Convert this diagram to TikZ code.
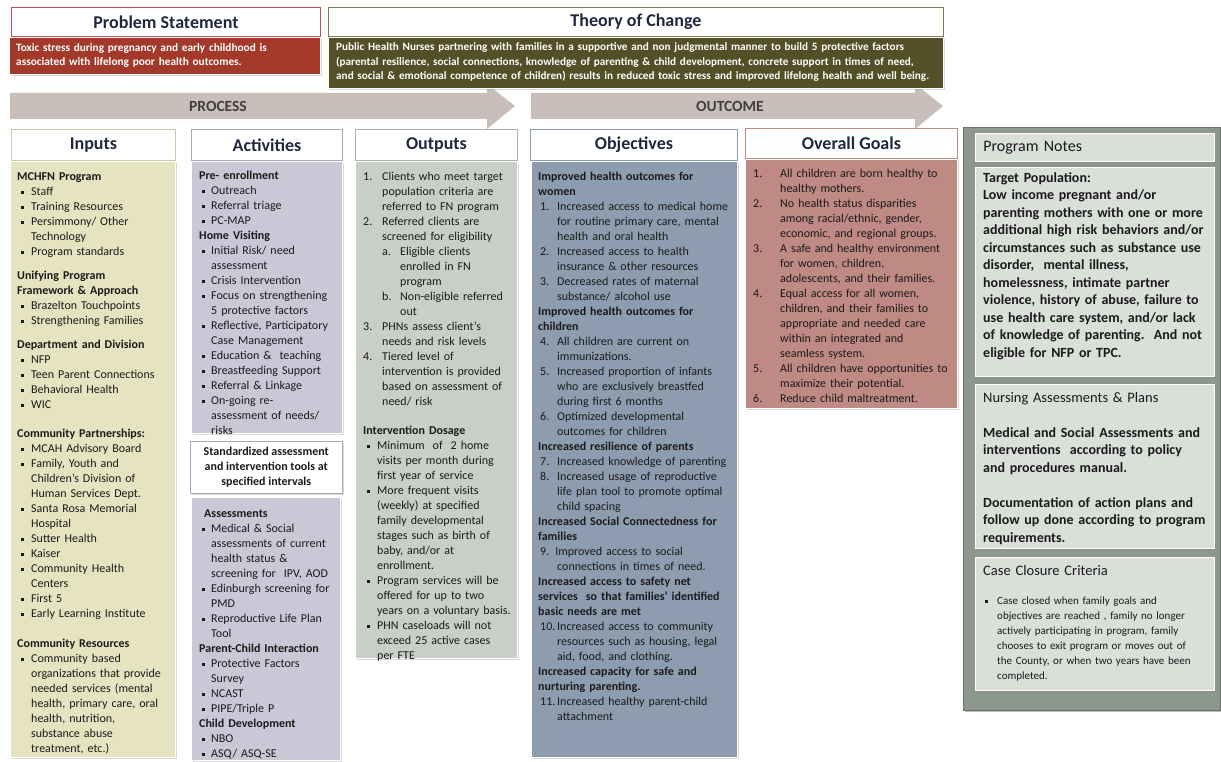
\documentclass[tikz,border=0pt]{standalone}
\usepackage{fontspec}
\setmainfont{Carlito}
\usepackage{xcolor}
\usetikzlibrary{shadows}
\setlength{\parindent}{0pt}

\definecolor{probred}{HTML}{A3392B}
\definecolor{probline}{HTML}{C0504D}
\definecolor{tocolive}{HTML}{535027}
\definecolor{tocline}{HTML}{7F7B4F}
\definecolor{arrowgrey}{HTML}{C9BEB9}
\definecolor{inputfill}{HTML}{E6E4C0}
\definecolor{actfill}{HTML}{C8C8D6}
\definecolor{outfill}{HTML}{C9CFC7}
\definecolor{objfill}{HTML}{8D9CAF}
\definecolor{goalfill}{HTML}{C08A84}
\definecolor{notesout}{HTML}{8C988C}
\definecolor{notesin}{HTML}{DADFDA}
\definecolor{hdrtext}{HTML}{202840}
\definecolor{bodytext}{HTML}{1A1A1A}

\newlength{\bulw}
\newlength{\buloff}
\newcommand{\hd}[1]{\par\noindent\strut\textbf{#1}}
\newcommand{\bu}[1]{\par\hangindent=\bulw\hangafter=1\noindent\strut\makebox[\bulw][l]{\hspace{\buloff}\raisebox{1.6pt}{\rule{2.6pt}{2.6pt}}}#1}
\newcommand{\nm}[2]{\par\hangindent=\bulw\hangafter=1\noindent\strut\makebox[\bulw][l]{\hspace{\buloff}#1}#2}
\newcommand{\subnm}[2]{\par\hangindent=37pt\hangafter=1\noindent\strut\hspace*{19pt}\makebox[18pt][l]{#1}#2}
\newcommand{\gap}[1]{\par\vspace{#1}}

\begin{document}
\begin{tikzpicture}[x=1pt,y=-1pt,
  hdr/.style={draw=#1, fill=white, line width=0.9pt, anchor=north west, inner sep=0pt, text=hdrtext, font=\fontsize{18}{20}\selectfont\bfseries},
  panel/.style={fill=#1, draw=white, line width=0.5pt, anchor=north west, inner sep=0pt, drop shadow={shadow xshift=2pt, shadow yshift=-2pt, opacity=0.3}},
  txt/.style={anchor=north west, inner sep=0pt, align=left, text=bodytext, font=\fontsize{12}{15}\selectfont},
  band/.style={fill=arrowgrey},
  bandlabel/.style={text=black!75, font=\fontsize{15.5}{17}\selectfont\bfseries}]
	\useasboundingbox (0,0) rectangle (1221,762);
	\fill[white] (0,0) rectangle (1221,762);
	% process / outcome bands
	\fill[band] (10,93) -- (487,93) -- (487,84) -- (515,106) -- (487,129) -- (487,119) -- (10,119) -- cycle;
	\fill[band] (531,93) -- (915,93) -- (915,84) -- (943,106) -- (915,129) -- (915,119) -- (531,119) -- cycle;
	\node[bandlabel] (process) at (218,106) {PROCESS};
	\node[bandlabel] (outcome) at (730,106) {OUTCOME};
	% problem statement and theory of change
	\node[hdr=probline, minimum width=309pt, minimum height=29pt] (probhdr) at (11,7) {Problem Statement};
	\node[panel=probred, minimum width=311pt, minimum height=37pt] (probbox) at (9,37) {};
	\node[txt, text=white, font=\fontsize{11.3}{14.5}\selectfont\bfseries, text width=310pt] (probtxt) at (16,41)
		{\strut Toxic stress during pregnancy and early childhood is\newline associated with lifelong poor health outcomes.};
	\node[hdr=tocline, minimum width=615pt, minimum height=29pt] (tochdr) at (328,7) {Theory of Change};
	\node[panel=tocolive, minimum width=615pt, minimum height=51pt] (tocbox) at (328,37) {};
	\node[txt, text=white, font=\fontsize{11.2}{14.5}\selectfont\bfseries, text width=620pt] (toctxt) at (336,40.5)
		{\strut Public Health Nurses partnering with families in a supportive and non judgmental manner to build 5 protective factors\newline
		(parental resilience, social connections, knowledge of parenting \& child development, concrete support in times of need,\newline
		and social \& emotional competence of children) results in reduced toxic stress and improved lifelong health and well being.};
	% column headers
	\node[hdr=inputfill!80!black!60!inputfill, minimum width=164pt, minimum height=31pt] (inhdr) at (11,129) {Inputs};
	\node[hdr=actfill!85!black, minimum width=151pt, minimum height=31pt] (acthdr) at (191,129) {Activities};
	\node[hdr=outfill!85!black, minimum width=162pt, minimum height=31pt] (outhdr) at (355,129) {Outputs};
	\node[hdr=objfill, minimum width=207pt, minimum height=31pt] (objhdr) at (530,129) {Objectives};
	\node[hdr=goalfill, minimum width=212pt, minimum height=30pt] (goalhdr) at (745,128) {Overall Goals};
	% column panels
	\node[panel=inputfill, minimum width=165pt, minimum height=596pt] (inbox) at (10,161) {};
	\node[panel=actfill, minimum width=151pt, minimum height=272pt] (actbox) at (191,161) {};
	\node[panel=white, draw=actfill!85!black, minimum width=152pt, minimum height=52pt, align=center, text=bodytext, font=\fontsize{12}{15}\selectfont\bfseries] (stdbox) at (190,441)
		{Standardized assessment\\and intervention tools at\\specified intervals};
	\node[panel=actfill, minimum width=149pt, minimum height=263pt] (toolbox) at (191,497) {};
	\node[panel=outfill, minimum width=162pt, minimum height=497pt] (outbox) at (355,161) {};
	\node[panel=objfill, minimum width=206pt, minimum height=596pt] (objbox) at (531,161) {};
	\node[panel=goalfill, minimum width=212pt, minimum height=249pt] (goalbox) at (745,159) {};
	% inputs
	\node[txt, text width=165pt] (intxt) at (17,165) {\setlength{\bulw}{14pt}\setlength{\buloff}{4pt}%
		\hd{MCHFN Program}
		\bu{Staff}
		\bu{Training Resources}
		\bu{Persimmony/ Other\newline Technology}
		\bu{Program standards}
		\gap{9pt}
		\hd{Unifying Program\newline Framework \& Approach}
		\bu{Brazelton Touchpoints}
		\bu{Strengthening Families}
		\gap{9pt}
		\hd{Department and Division}
		\bu{NFP}
		\bu{Teen Parent Connections}
		\bu{Behavioral Health}
		\bu{WIC}
		\gap{14pt}
		\hd{Community Partnerships:}
		\bu{MCAH Advisory Board}
		\bu{Family, Youth and\newline Children's Division of\newline Human Services Dept.}
		\bu{Santa Rosa Memorial\newline Hospital}
		\bu{Sutter Health}
		\bu{Kaiser}
		\bu{Community Health\newline Centers}
		\bu{First 5}
		\bu{Early Learning Institute}
		\gap{15pt}
		\hd{Community Resources}
		\bu{Community based\newline organizations that provide\newline needed services (mental\newline health, primary care, oral\newline health, nutrition,\newline substance abuse\newline treatment, etc.)}\par};
	% activities
	\node[txt, text width=150pt] (acttxt) at (199,164) {\setlength{\bulw}{12pt}\setlength{\buloff}{3pt}%
		\hd{Pre- enrollment}
		\bu{Outreach}
		\bu{Referral triage}
		\bu{PC-MAP}
		\hd{Home Visiting}
		\bu{Initial Risk/ need\newline assessment}
		\bu{Crisis Intervention}
		\bu{Focus on strengthening\newline 5 protective factors}
		\bu{Reflective, Participatory\newline Case Management}
		\bu{Education \&\ \ teaching}
		\bu{Breastfeeding Support}
		\bu{Referral \& Linkage}
		\bu{On-going re-\newline assessment of needs/\newline risks}\par};
	\node[txt, text width=150pt] (tooltxt) at (199,502) {\setlength{\bulw}{12pt}\setlength{\buloff}{3pt}%
		\hd{\hspace{5pt}Assessments}
		\bu{Medical \& Social\newline assessments of current\newline health status \&\newline screening for\ \ IPV, AOD}
		\bu{Edinburgh screening for\newline PMD}
		\bu{Reproductive Life Plan\newline Tool}
		\hd{Parent-Child Interaction}
		\bu{Protective Factors\newline Survey}
		\bu{NCAST}
		\bu{PIPE/Triple P}
		\hd{Child Development}
		\bu{NBO}
		\bu{ASQ/ ASQ-SE}\par};
	% outputs
	\node[txt, text width=160pt] (outtxt) at (363,165) {\setlength{\bulw}{19pt}\setlength{\buloff}{0pt}%
		\nm{1.}{Clients who meet target\newline population criteria are\newline referred to FN program}
		\nm{2.}{Referred clients are\newline screened for eligibility}
		\subnm{a.}{Eligible clients\newline enrolled in FN\newline program}
		\subnm{b.}{Non-eligible referred\newline out}
		\nm{3.}{PHNs assess client's\newline needs and risk levels}
		\nm{4.}{Tiered level of\newline intervention is provided\newline based on assessment of\newline need/ risk}
		\gap{14pt}
		\hd{Intervention Dosage}\setlength{\bulw}{14pt}\setlength{\buloff}{4pt}%
		\bu{Minimum\ \ of\ \ 2 home\newline visits per month during\newline first year of service}
		\bu{More frequent visits\newline (weekly) at specified\newline family developmental\newline stages such as birth of\newline baby, and/or at\newline enrollment.}
		\bu{Program services will be\newline offered for up to two\newline years on a voluntary basis.}
		\bu{PHN caseloads will not\newline exceed 25 active cases\newline per FTE}\par};
	% objectives
	\node[txt, text width=205pt] (objtxt) at (538,165) {\setlength{\bulw}{19pt}\setlength{\buloff}{2pt}%
		\hd{Improved health outcomes for\newline women}
		\nm{1.}{Increased access to medical home\newline for routine primary care, mental\newline health and oral health}
		\nm{2.}{Increased access to health\newline insurance \& other resources}
		\nm{3.}{Decreased rates of maternal\newline substance/ alcohol use}
		\hd{Improved health outcomes for\newline children}
		\nm{4.}{All children are current on\newline immunizations.}
		\nm{5.}{Increased proportion of infants\newline who are exclusively breastfed\newline during first 6 months}
		\nm{6.}{Optimized developmental\newline outcomes for children}
		\hd{Increased resilience of parents}
		\nm{7.}{Increased knowledge of parenting}
		\nm{8.}{Increased usage of reproductive\newline life plan tool to promote optimal\newline child spacing}
		\hd{Increased Social Connectedness for\newline families}
		\par\hangindent=\bulw\hangafter=1\noindent\strut\hspace{\buloff}9. Improved access to social\newline connections in times of need.
		\hd{Increased access to safety net\newline services\ \ so that families' identified\newline basic needs are met}
		\nm{10.}{Increased access to community\newline resources such as housing, legal\newline aid, food, and clothing.}
		\hd{Increased capacity for safe and\newline nurturing parenting.}
		\nm{11.}{Increased healthy parent-child\newline attachment}\par};
	% overall goals
	\node[txt, text width=210pt] (goaltxt) at (753,162) {\setlength{\bulw}{27pt}\setlength{\buloff}{0pt}%
		\nm{1.}{All children are born healthy to\newline healthy mothers.}
		\nm{2.}{No health status disparities\newline among racial/ethnic, gender,\newline economic, and regional groups.}
		\nm{3.}{A safe and healthy environment\newline for women, children,\newline adolescents, and their families.}
		\nm{4.}{Equal access for all women,\newline children, and their families to\newline appropriate and needed care\newline within an integrated and\newline seamless system.}
		\nm{5.}{All children have opportunities to\newline maximize their potential.}
		\nm{6.}{Reduce child maltreatment.}\par};
	% program notes
	\begin{scope}[every node/.append style={panel=notesin}]
		\node[panel=notesout, draw=notesout!75!black, minimum width=257pt, minimum height=583pt] (notesbox) at (963,127) {};
		\node[text width=223pt, inner xsep=8pt, minimum height=28pt, align=left, text=bodytext, font=\fontsize{16}{18}\selectfont] (notehdr) at (975,133) {Program Notes};
		\node[minimum width=239pt, minimum height=209pt] (tgtbox) at (975,167) {};
		\node[minimum width=239pt, minimum height=164pt] (nursebox) at (975,384) {};
		\node[minimum width=239pt, minimum height=133pt] (closebox) at (975,557) {};
	\end{scope}
	\node[txt, font=\fontsize{14}{17.5}\selectfont\bfseries, text width=250pt] (tgttxt) at (983,170)
		{\strut Target Population:\newline Low income pregnant and/or\newline parenting mothers with one or more\newline additional high risk behaviors and/or\newline
		circumstances such as substance use\newline disorder,\ \ mental illness,\newline homelessness, intimate partner\newline violence, history of abuse, failure to\newline
		use health care system, and/or lack\newline of knowledge of parenting.\ \ And not\newline eligible for NFP or TPC.};
	\node[txt, font=\fontsize{14}{17.5}\selectfont, text width=250pt] (nursetxt) at (983,390)
		{\strut{\fontsize{14.5}{17.5}\selectfont Nursing Assessments \& Plans}
		\gap{17.5pt}\noindent\strut\textbf{Medical and Social Assessments and\newline interventions\ \ according to policy\newline and procedures manual.}
		\gap{17.5pt}\noindent\strut\textbf{Documentation of action plans and\newline follow up done according to program\newline requirements.}};
	\node[txt, font=\fontsize{14.5}{17.5}\selectfont, text width=230pt] (closehdr) at (983,563) {\strut Case Closure Criteria};
	\node[txt, font=\fontsize{11}{15}\selectfont, text width=235pt] (closetxt) at (985,589) {\setlength{\bulw}{12pt}\setlength{\buloff}{0pt}%
		\bu{Case closed when family goals and\newline objectives are reached , family no longer\newline actively participating in program, family\newline chooses to exit program or moves out of\newline the County, or when two years have been\newline completed.}\par};
\end{tikzpicture}
\end{document}
